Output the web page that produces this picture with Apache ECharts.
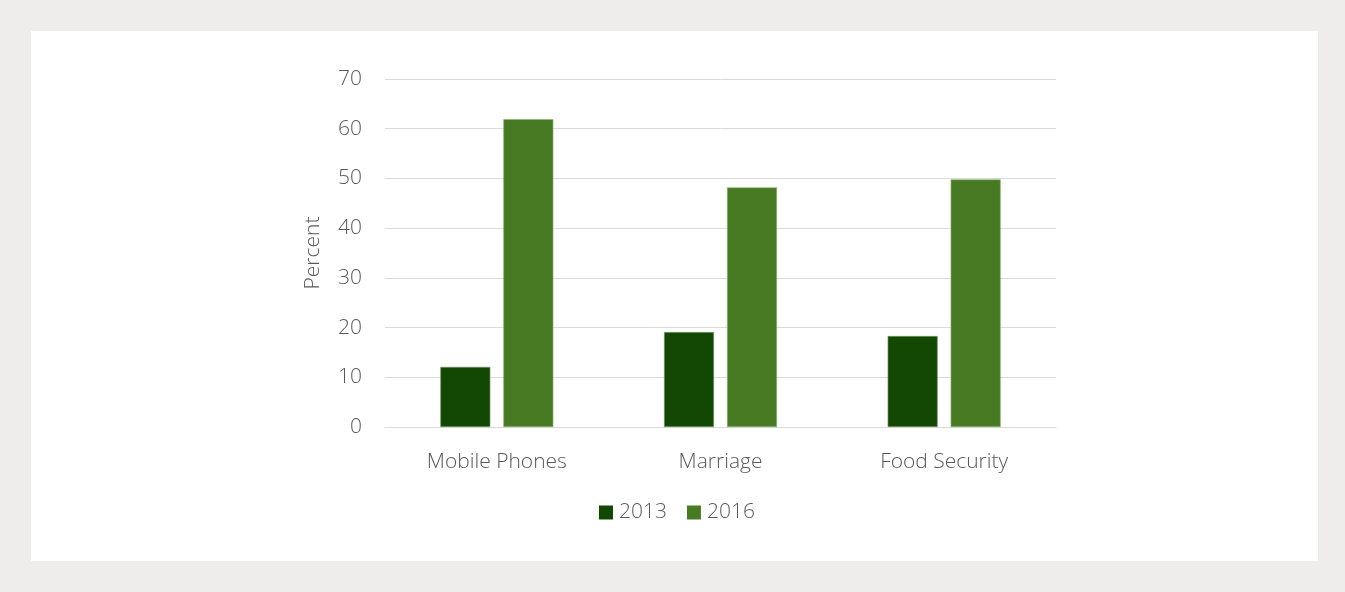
<!DOCTYPE html>
<html>
<head>
<meta charset="utf-8">
<script src="https://cdn.jsdelivr.net/npm/echarts@6/dist/echarts.min.js"></script>
<style>
html,body{margin:0;padding:0;background:#eeedeb;}
#c{width:1345px;height:592px;}
</style>
</head>
<body>
<div id="c"></div>
<script>
const categories = ['Mobile Phones', 'Marriage', 'Food Security'];
const series2013 = [12.1, 19.1, 18.3];
const series2016 = [61.9, 48.2, 49.8];
const yTicks = [0, 10, 20, 30, 40, 50, 60, 70];

const FONT = '"Open Sans", sans-serif';
const W = 300;
const TXT = '#595959';
const chart = echarts.init(document.getElementById('c'), null, {renderer: 'canvas'});
chart.setOption({
  backgroundColor: '#eeedeb',
  animation: false,
  textStyle: {fontFamily: FONT},
  graphic: [{
    type: 'rect', z: -10, silent: true,
    shape: {x: 31, y: 31, width: 1287, height: 530},
    style: {fill: '#ffffff'}
  }],
  grid: {left: 385, right: 289, top: 79, bottom: 165, containLabel: false},
  legend: {
    data: ['2013', '2016'],
    left: 599, top: 502, padding: 0,
    icon: 'rect', itemWidth: 14, itemHeight: 14, itemGap: 20,
    itemStyle: {borderWidth: 0},
    textStyle: {fontSize: 21, color: TXT, fontFamily: FONT, fontWeight: W, padding: [0, 0, 0, 1]}
  },
  xAxis: {
    type: 'category',
    data: categories,
    axisTick: {show: false},
    axisLine: {lineStyle: {color: '#d9d9d9', width: 1}},
    axisLabel: {fontSize: 21, color: TXT, fontFamily: FONT, fontWeight: W, margin: 25}
  },
  yAxis: {
    type: 'value',
    min: yTicks[0], max: yTicks[yTicks.length - 1], interval: 10,
    name: 'Percent',
    nameLocation: 'middle', nameGap: 61, nameRotate: 90,
    nameTextStyle: {fontSize: 21, color: TXT, fontFamily: FONT, fontWeight: W},
    axisLine: {show: false}, axisTick: {show: false},
    splitLine: {lineStyle: {color: '#d9d9d9', width: 1}},
    axisLabel: {fontSize: 21, color: TXT, fontFamily: FONT, fontWeight: W, margin: 23}
  },
  series: [
    {name: '2013', type: 'bar', data: series2013, barWidth: 50, barGap: '26%',
     itemStyle: {color: '#124804', borderColor: '#7d9a70', borderWidth: 0.6}},
    {name: '2016', type: 'bar', data: series2016, barWidth: 50,
     itemStyle: {color: '#477a22', borderColor: '#90b07a', borderWidth: 0.6}}
  ]
});
</script>
</body>
</html>
